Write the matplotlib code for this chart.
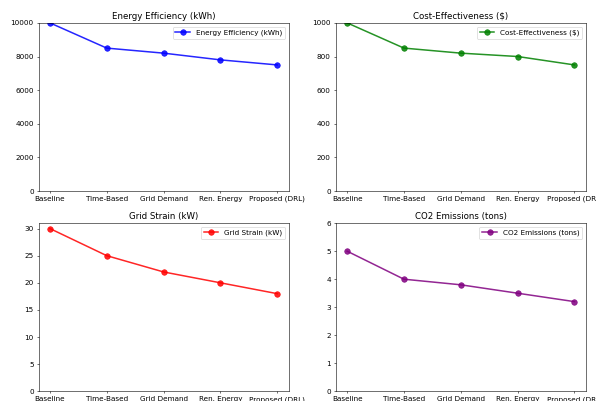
import matplotlib
matplotlib.use('Agg')
import matplotlib.pyplot as plt

strategies = ['Baseline', 'Time-Based', 'Grid Demand', 'Ren. Energy', 'Proposed (DRL)']

energy = [10000, 8500, 8200, 7800, 7500]
cost = [1000, 850, 820, 800, 750]
grid_strain = [30, 25, 22, 20, 18]
co2 = [5, 4, 3.8, 3.5, 3.2]

panels = [
    ('Energy Efficiency (kWh)', energy, 'blue', 10000),
    ('Cost-Effectiveness ($)', cost, 'green', 1000),
    ('Grid Strain (kW)', grid_strain, 'red', 31),
    ('CO2 Emissions (tons)', co2, 'purple', 6),
]

fig, axes = plt.subplots(2, 2, figsize=(11.92, 8.02), dpi=50)
fig.subplots_adjust(left=0.0646, right=0.983, top=0.943, bottom=0.024,
                    wspace=0.188, hspace=0.19)

for ax, (name, vals, col, ytop) in zip(axes.flat, panels):
    ax.plot(strategies, vals, marker='o', color=col, label=name,
            linewidth=2.2, markersize=8, alpha=0.85)
    ax.set_title(name, fontsize=12.5)
    ax.set_ylim(0, ytop)
    ax.tick_params(labelsize=10.5)
    ax.legend(loc='upper right', fontsize=10.5)

fig.savefig('out.png', dpi=50)
